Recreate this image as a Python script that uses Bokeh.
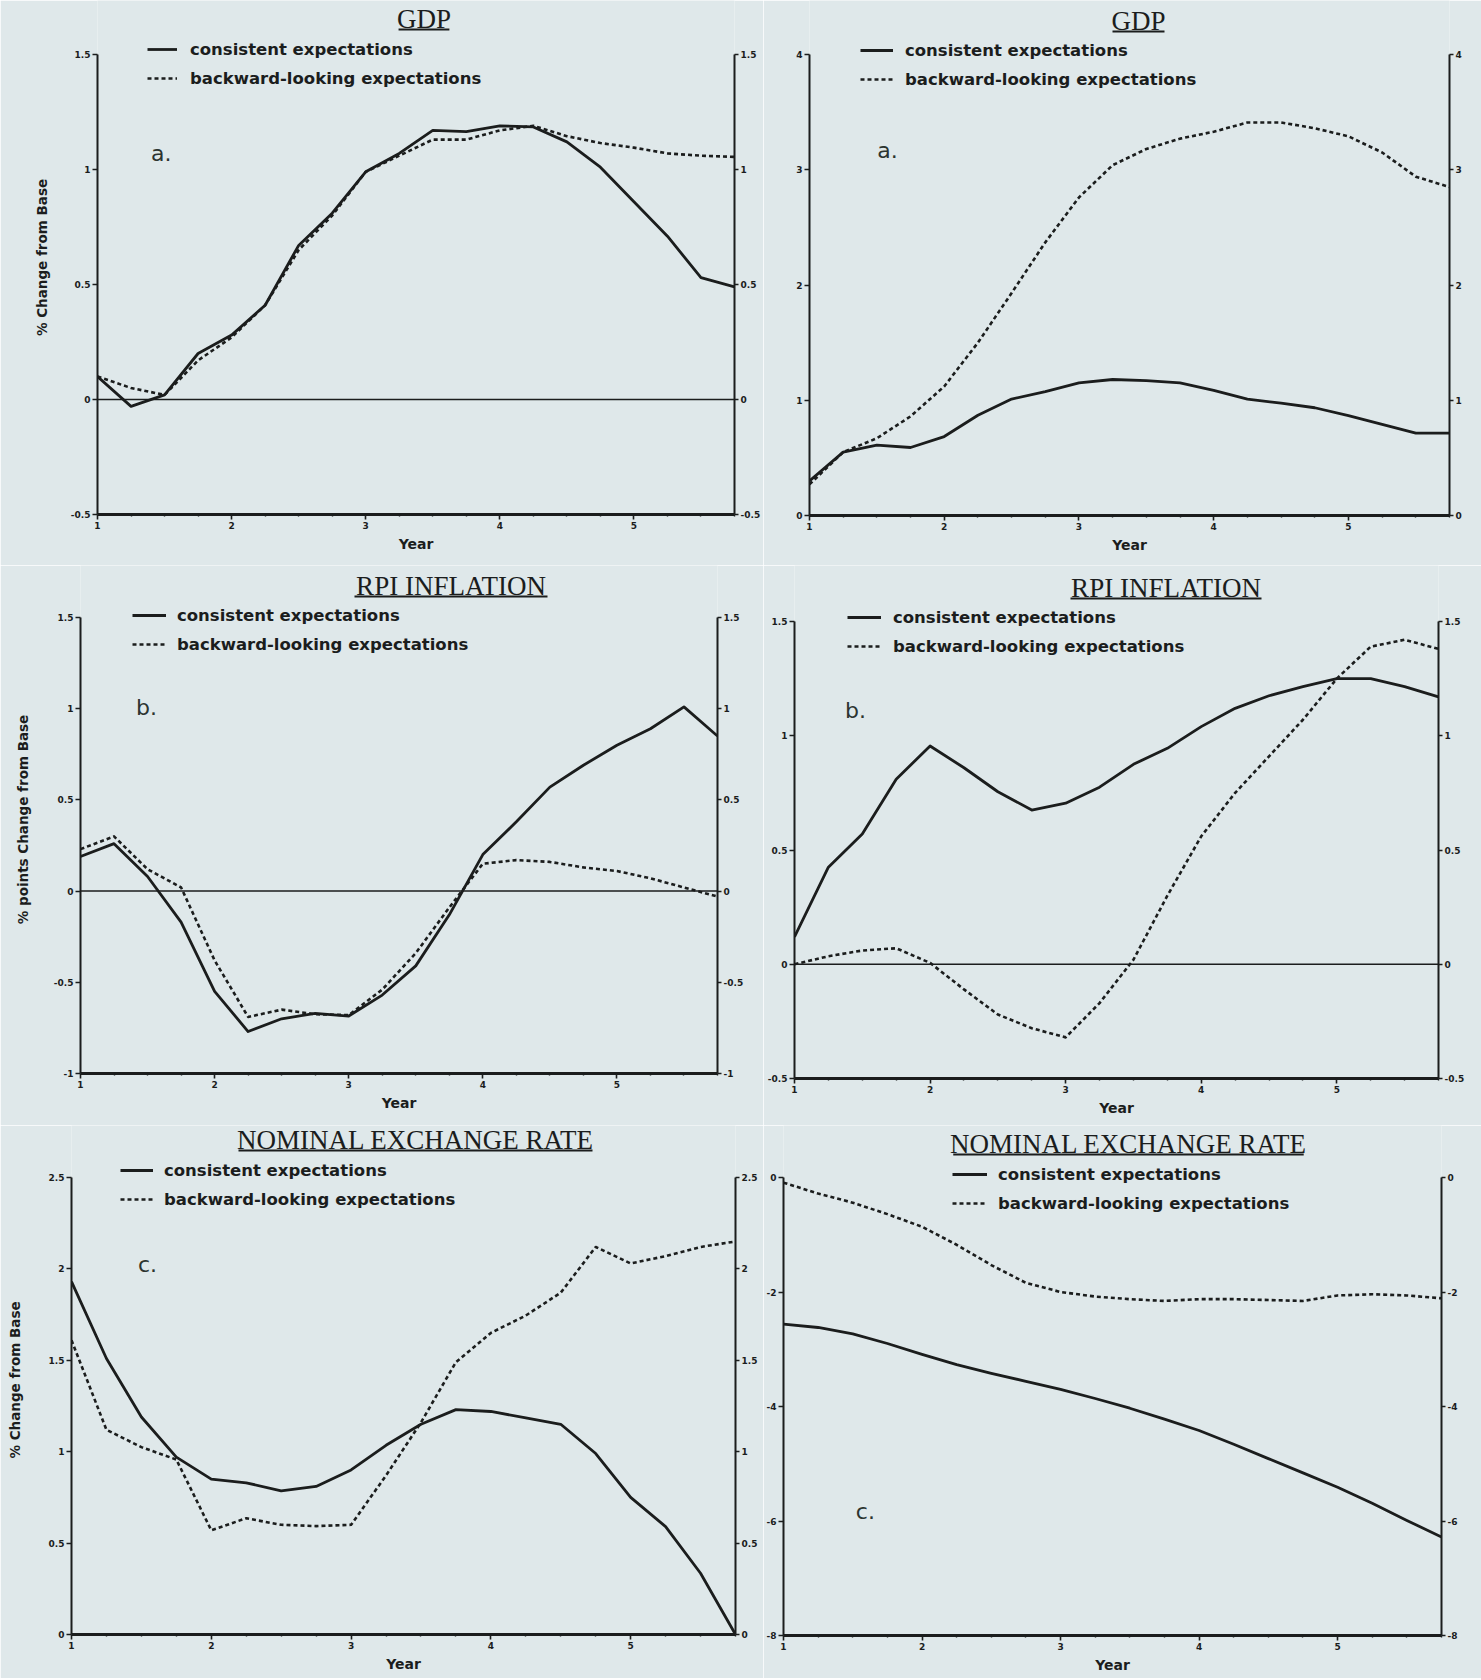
from bokeh.plotting import figure
from bokeh.models import (Range1d, LinearAxis, FixedTicker, Span, Label, Legend,
                          LegendItem, BoxAnnotation)
from bokeh.layouts import row, column
from bokeh.embed import file_html
from bokeh.resources import INLINE

# ------------------------------------------------------------------ data
years = [1.0, 1.25, 1.5, 1.75, 2.0, 2.25, 2.5, 2.75, 3.0, 3.25,
         3.5, 3.75, 4.0, 4.25, 4.5, 4.75, 5.0, 5.25, 5.5, 5.75]
year_ticks = [1, 2, 3, 4, 5]
year_tick_labels = ["1", "2", "3", "4", "5"]
quarter_ticks = [1.25, 1.5, 1.75, 2.25, 2.5, 2.75, 3.25, 3.5, 3.75,
                 4.25, 4.5, 4.75, 5.25, 5.5, 5.75]
series_names = ["consistent expectations", "backward-looking expectations"]

# GDP (a, left)
gdp_cons_left = [0.10, -0.03, 0.02, 0.20, 0.28, 0.41, 0.67, 0.81, 0.99, 1.07,
                 1.17, 1.165, 1.19, 1.185, 1.12, 1.01, 0.86, 0.71, 0.53, 0.49]
gdp_back_left = [0.10, 0.05, 0.02, 0.17, 0.27, 0.41, 0.65, 0.80, 0.99, 1.06,
                 1.13, 1.13, 1.17, 1.19, 1.145, 1.115, 1.095, 1.07, 1.06, 1.055]
gdp_ticks_left = [-0.5, 0, 0.5, 1, 1.5]
gdp_labels_left = ["-0.5", "0", "0.5", "1", "1.5"]

# GDP (a, right)
gdp_cons_right = [0.30, 0.55, 0.61, 0.59, 0.685, 0.87, 1.01, 1.075, 1.15, 1.18,
                  1.17, 1.15, 1.085, 1.01, 0.975, 0.935, 0.866, 0.79, 0.715, 0.715]
gdp_back_right = [0.27, 0.55, 0.67, 0.86, 1.12, 1.50, 1.93, 2.37, 2.76, 3.04,
                  3.18, 3.27, 3.33, 3.41, 3.41, 3.36, 3.29, 3.15, 2.94, 2.85]
gdp_ticks_right = [0, 1, 2, 3, 4]
gdp_labels_right = ["0", "1", "2", "3", "4"]

# RPI inflation (b, left)
rpi_cons_left = [0.19, 0.26, 0.08, -0.17, -0.55, -0.77, -0.70, -0.67, -0.685, -0.57,
                 -0.41, -0.13, 0.20, 0.38, 0.57, 0.69, 0.80, 0.89, 1.01, 0.85]
rpi_back_left = [0.23, 0.30, 0.12, 0.02, -0.38, -0.69, -0.65, -0.675, -0.68, -0.54,
                 -0.34, -0.09, 0.15, 0.17, 0.16, 0.13, 0.11, 0.07, 0.02, -0.03]
rpi_ticks_left = [-1, -0.5, 0, 0.5, 1, 1.5]
rpi_labels_left = ["-1", "-0.5", "0", "0.5", "1", "1.5"]

# RPI inflation (b, right)
rpi_cons_right = [0.12, 0.425, 0.57, 0.81, 0.955, 0.86, 0.755, 0.675, 0.705, 0.775,
                  0.875, 0.945, 1.04, 1.12, 1.175, 1.215, 1.25, 1.25, 1.215, 1.17]
rpi_back_right = [0.0, 0.035, 0.06, 0.07, 0.006, -0.11, -0.22, -0.28, -0.32, -0.17,
                  0.02, 0.30, 0.56, 0.75, 0.91, 1.07, 1.25, 1.39, 1.42, 1.38]
rpi_ticks_right = [-0.5, 0, 0.5, 1, 1.5]
rpi_labels_right = ["-0.5", "0", "0.5", "1", "1.5"]

# Nominal exchange rate (c, left)
ner_cons_left = [1.93, 1.51, 1.19, 0.97, 0.85, 0.83, 0.786, 0.81, 0.90, 1.035,
                 1.15, 1.23, 1.22, 1.185, 1.15, 0.99, 0.75, 0.59, 0.335, 0.0]
ner_back_left = [1.61, 1.12, 1.025, 0.957, 0.57, 0.636, 0.60, 0.593, 0.60, 0.87,
                 1.16, 1.49, 1.65, 1.745, 1.87, 2.12, 2.03, 2.07, 2.12, 2.15]
ner_ticks_left = [0, 0.5, 1, 1.5, 2, 2.5]
ner_labels_left = ["0", "0.5", "1", "1.5", "2", "2.5"]

# Nominal exchange rate (c, right)
ner_cons_right = [-2.56, -2.62, -2.73, -2.90, -3.09, -3.27, -3.42, -3.56, -3.70, -3.86,
                  -4.03, -4.22, -4.42, -4.66, -4.91, -5.16, -5.41, -5.69, -5.99, -6.28]
ner_back_right = [-0.09, -0.28, -0.44, -0.64, -0.86, -1.175, -1.53, -1.84, -2.0, -2.08,
                  -2.125, -2.156, -2.125, -2.125, -2.14, -2.156, -2.06, -2.04, -2.06, -2.11]
ner_ticks_right = [-8, -6, -4, -2, 0]
ner_labels_right = ["-8", "-6", "-4", "-2", "0"]

# ------------------------------------------------------------------ style
INK = "#1b1d1d"
PAPER = "#dfe8ea"
X0, X1 = 1.0, 5.75


def make_panel(spec):
    L, R, T, B = spec["frame"]          # visible plot box (page px)
    cl, cr = spec["col"]
    rt, rb = spec["rowy"]
    y0, y1 = spec["yrange"]
    # the frame is extended up to the top of the figure so that titles and
    # legends drawn above the axes box are not clipped; axes are bounded.
    per_px = (y1 - y0) / (B - T)
    y1_ext = y0 + (B - rt) * per_px

    def to_data(px, py):
        return (X0 + (px - L) / (R - L) * (X1 - X0), y1 - (py - T) * per_px)

    p = figure(width=cr - cl, height=rb - rt,
               x_range=Range1d(X0, X1), y_range=Range1d(y0, y1_ext),
               x_axis_type=None, y_axis_type=None,
               output_backend="svg", toolbar_location=None,
               min_border_left=L - cl, min_border_right=cr - R,
               min_border_top=0, min_border_bottom=rb - B)
    try:
        p.frame_align = False
    except Exception:
        pass
    p.background_fill_color = PAPER
    p.border_fill_color = PAPER
    p.outline_line_color = None

    def style_axis(ax, tick_out=5):
        ax.axis_line_color = INK
        ax.axis_line_width = 2
        ax.major_tick_line_color = INK
        ax.major_tick_line_width = 1.6
        ax.major_tick_out = tick_out
        ax.major_tick_in = 0
        ax.minor_tick_line_color = INK
        ax.minor_tick_line_width = 1.4
        ax.minor_tick_out = 2
        ax.minor_tick_in = 0
        ax.major_label_text_font = "DejaVu Sans"
        ax.major_label_text_font_style = "bold"
        ax.major_label_text_font_size = "9px"
        ax.major_label_text_color = INK
        ax.major_label_standoff = 2

    # x axis
    xax = LinearAxis(ticker=FixedTicker(ticks=year_ticks, minor_ticks=quarter_ticks),
                     major_label_overrides={t: s for t, s in zip(year_ticks, year_tick_labels)},
                     axis_label="Year")
    style_axis(xax)
    xax.axis_line_width = 3
    xax.axis_label_text_font = "DejaVu Sans"
    xax.axis_label_text_font_style = "bold"
    xax.axis_label_text_font_size = "14px"
    xax.axis_label_text_color = INK
    xax.axis_label_standoff = 4
    p.add_layout(xax, "below")

    overrides = {t: s for t, s in zip(spec["yticks"], spec["ylabels"])}
    # left y axis
    lax = LinearAxis(ticker=FixedTicker(ticks=spec["yticks"], minor_ticks=[]),
                     major_label_overrides=overrides, bounds=(y0, y1))
    style_axis(lax)
    if spec.get("ytitle"):
        lax.axis_label = spec["ytitle"]
        lax.axis_label_text_font = "DejaVu Sans"
        lax.axis_label_text_font_style = "bold"
        lax.axis_label_text_font_size = "13.5px"
        lax.axis_label_text_color = INK
        lax.axis_label_standoff = spec["ytitle_standoff"]
    p.add_layout(lax, "left")
    # right y axis
    rax = LinearAxis(ticker=FixedTicker(ticks=spec["yticks"], minor_ticks=[]),
                     major_label_overrides=overrides, bounds=(y0, y1))
    style_axis(rax, tick_out=4)
    p.add_layout(rax, "right")

    if spec["zero"]:
        p.add_layout(Span(location=0, dimension="width", line_color=INK, line_width=1.5))

    r1 = p.line(years, spec["cons"], line_color=INK, line_width=2.8, line_join="round")
    r2 = p.line(years, spec["back"], line_color=INK, line_width=2.6,
                line_dash="4 3", line_join="round")

    # legend
    lx, ly1, gw, so = spec["legend"]
    item_h, spacing = 20, 9
    leg_top = ly1 - item_h / 2
    leg_bottom = leg_top + 2 * item_h + spacing
    legend = Legend(items=[LegendItem(label=series_names[0], renderers=[r1]),
                           LegendItem(label=series_names[1], renderers=[r2])],
                    location=(lx - L, B - leg_bottom), orientation="vertical",
                    border_line_color=None, background_fill_alpha=0,
                    padding=0, margin=0, spacing=spacing,
                    glyph_width=gw, glyph_height=item_h, label_height=item_h,
                    label_standoff=so,
                    label_text_font="DejaVu Sans", label_text_font_style="bold",
                    label_text_font_size="16.5px", label_text_color=INK)
    p.add_layout(legend, "center")

    # title with underline
    ux0, ux1, uy = spec["underline"]
    tx, ty = to_data((ux0 + ux1) / 2, uy - 11)
    p.add_layout(Label(x=tx, y=ty, text=spec["title"], text_align="center",
                       text_baseline="alphabetic", text_font="Liberation Serif",
                       text_font_size="27px", text_color=INK))
    bx0, by0 = to_data(ux0, uy + 1)
    bx1, by1 = to_data(ux1, uy - 1)
    p.add_layout(BoxAnnotation(left=bx0, right=bx1, bottom=by0, top=by1,
                               fill_color=INK, fill_alpha=1, line_color=None))

    # handwritten panel letter
    hx, hy = to_data(*spec["letter_pos"])
    p.add_layout(Label(x=hx, y=hy, text=spec["letter"], text_align="center",
                       text_baseline="middle", text_font="DejaVu Sans",
                       text_font_size="22px", text_color="#2c3430"))
    return p


COL_L = (0, 763)
COL_R = (763, 1481)
ROW1, ROW2, ROW3 = (0, 565), (565, 1125), (1125, 1678)

specs = [
    dict(frame=(97, 736, 54, 514), col=COL_L, rowy=ROW1, yrange=(-0.5, 1.5),
         yticks=gdp_ticks_left, ylabels=gdp_labels_left,
         cons=gdp_cons_left, back=gdp_back_left, zero=True,
         title="GDP", underline=(399, 450, 29), legend=(147, 49, 30, 13),
         letter="a.", letter_pos=(161, 153),
         ytitle="% Change from Base", ytitle_standoff=18),
    dict(frame=(809, 1449, 54, 515), col=COL_R, rowy=ROW1, yrange=(0, 4),
         yticks=gdp_ticks_right, ylabels=gdp_labels_right,
         cons=gdp_cons_right, back=gdp_back_right, zero=False,
         title="GDP", underline=(1112, 1164, 31), legend=(860, 50, 33, 12),
         letter="a.", letter_pos=(887, 150)),
    dict(frame=(80, 717, 617, 1073), col=COL_L, rowy=ROW2, yrange=(-1, 1.5),
         yticks=rpi_ticks_left, ylabels=rpi_labels_left,
         cons=rpi_cons_left, back=rpi_back_left, zero=True,
         title="RPI INFLATION", underline=(354, 547, 596), legend=(132, 615, 34, 11),
         letter="b.", letter_pos=(146, 707),
         ytitle="% points Change from Base", ytitle_standoff=20),
    dict(frame=(794, 1438, 621, 1078), col=COL_R, rowy=ROW2, yrange=(-0.5, 1.5),
         yticks=rpi_ticks_right, ylabels=rpi_labels_right,
         cons=rpi_cons_right, back=rpi_back_right, zero=True,
         title="RPI INFLATION", underline=(1070, 1261, 598), legend=(847, 617, 34, 12),
         letter="b.", letter_pos=(855, 710)),
    dict(frame=(71, 735, 1177, 1634), col=COL_L, rowy=ROW3, yrange=(0, 2.5),
         yticks=ner_ticks_left, ylabels=ner_labels_left,
         cons=ner_cons_left, back=ner_back_left, zero=False,
         title="NOMINAL EXCHANGE RATE", underline=(238, 592, 1150), legend=(120, 1170, 33, 11),
         letter="c.", letter_pos=(147, 1264),
         ytitle="% Change from Base", ytitle_standoff=23),
    dict(frame=(782, 1441, 1177, 1635), col=COL_R, rowy=ROW3, yrange=(-8, 0),
         yticks=ner_ticks_right, ylabels=ner_labels_right,
         cons=ner_cons_right, back=ner_back_right, zero=False,
         title="NOMINAL EXCHANGE RATE", underline=(952, 1303, 1154), legend=(951, 1174, 35, 11),
         letter="c.", letter_pos=(864, 1511)),
]

panels = [make_panel(s) for s in specs]
layout = row(column(panels[0], panels[2], panels[4]),
             column(panels[1], panels[3], panels[5]))

open("out.html", "w").write(file_html(layout, INLINE))
